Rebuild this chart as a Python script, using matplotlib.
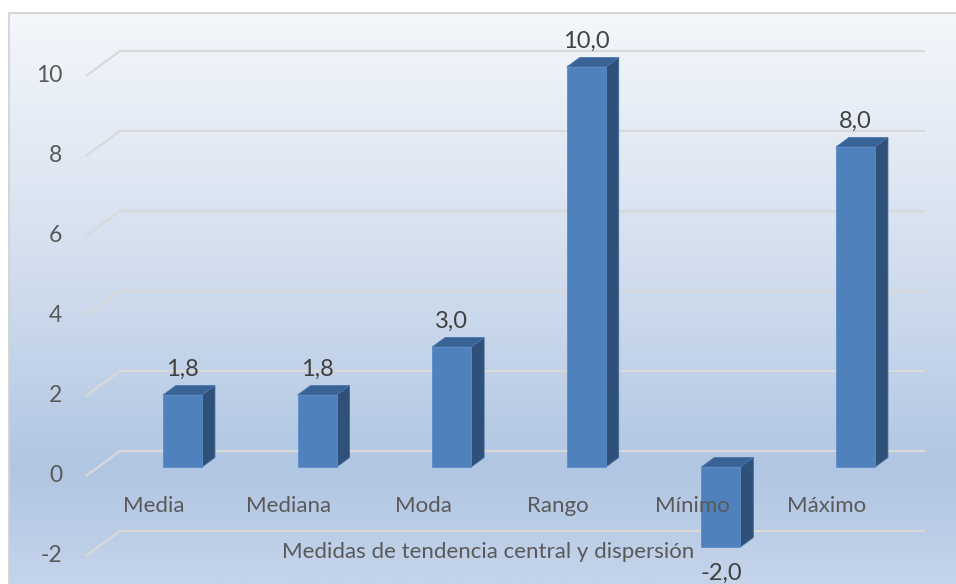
import numpy as np
from matplotlib import pyplot as plt
from matplotlib.patches import Polygon, Rectangle
from matplotlib.colors import LinearSegmentedColormap

plt.rcParams['font.family'] = ['Lato', 'DejaVu Sans']

categorias = ['Media', 'Mediana', 'Moda', 'Rango', 'Mínimo', 'Máximo']
valores = [1.8, 1.8, 3.0, 10.0, -2.0, 8.0]
ticks_y = [-2, 0, 2, 4, 6, 8, 10]
titulo_x = 'Medidas de tendencia central y dispersión'

W, H = 956, 584
# pixel layout of the pseudo 3D box
X0, PXCAT = 170.3, 134.6     # category 0 at depth 0, px per category
Y0, PXVAL = 476.0, 40.0      # value 0 at depth 0, px per unit
DXPX, DYPX = 34.0, 25.0      # full depth shift in px
DX = DXPX / PXCAT
DY = DYPX / PXVAL

def px2x(px):
    return (px - X0) / PXCAT

def px2y(py):
    return (Y0 - py) / PXVAL

def p(x, v, d):
    return (x + d * DX, v + d * DY)

fig = plt.figure(figsize=(W / 100, H / 100), dpi=100)
ax = fig.add_axes([0, 0, 1, 1])
ax.set_xlim(px2x(0), px2x(W))
ax.set_ylim(px2y(H), px2y(0))
ax.axis('off')

# background with gradient and frame
stops = [(0.0, (244/255, 247/255, 251/255)),
         (0.45, (210/255, 222/255, 238/255)),
         (0.8, (177/255, 198/255, 227/255)),
         (1.0, (196/255, 212/255, 234/255))]
cmap = LinearSegmentedColormap.from_list('fondo', stops)
grad = np.linspace(0, 1, 256).reshape(-1, 1)
ax.imshow(grad, cmap=cmap, aspect='auto', origin='upper',
          extent=[px2x(9), px2x(W + 5), px2y(13 + 571), px2y(13)], zorder=0)
ax.add_patch(Rectangle((px2x(9), px2y(H + 5)), px2x(W + 5) - px2x(9), px2y(13) - px2y(H + 5),
                       fill=False, edgecolor='#d0d0d0', lw=1.2, zorder=1))

# gridlines: left wall diagonal + back wall horizontal
xl = px2x(86)
xr = px2x(925 - DXPX)
for v in ticks_y:
    a = p(xl, v, 0)
    b = p(xl, v, 1)
    c = p(xr, v, 1)
    ax.plot([a[0], b[0], c[0]], [a[1], b[1], c[1]], color='#d9d9d9', lw=1.6,
            solid_capstyle='butt', zorder=2)
    ax.text(px2x(62), v, str(v), ha='right', va='center', fontsize=16.5, color='#595959', zorder=5)

# bars
w = 39.0 / PXCAT
d0, d1 = 0.36, 0.74
c_front = '#4f81bd'
c_side = '#2f5079'
c_top = '#3a6395'
for i, v in enumerate(valores):
    xa = i + (182.5 - X0) / PXCAT - w / 2 - d0 * DX
    xb = xa + w
    lo, hi = min(0, v), max(0, v)
    front = [p(xa, lo, d0), p(xb, lo, d0), p(xb, hi, d0), p(xa, hi, d0)]
    side = [p(xb, lo, d0), p(xb, lo, d1), p(xb, hi, d1), p(xb, hi, d0)]
    top = [p(xa, hi, d0), p(xb, hi, d0), p(xb, hi, d1), p(xa, hi, d1)]
    ax.add_patch(Polygon(side, closed=True, facecolor=c_side, edgecolor='#3f6a9e', lw=0.6, zorder=3))
    ax.add_patch(Polygon(top, closed=True, facecolor=c_top, edgecolor='#4a77ae', lw=0.6, zorder=3))
    ax.add_patch(Polygon(front, closed=True, facecolor=c_front, edgecolor='#5b8cc8', lw=0.6, zorder=4))

    cx, cy = p(xa + w / 2, v, d0)
    off = 0.65 if v >= 0 else -0.65
    ax.text(cx, cy + off, f'{v:.1f}'.replace('.', ','), ha='center', va='center',
            fontsize=17, color='#404040', zorder=6)

    ax.text(i + px2x(154), px2y(506), categorias[i], ha='center', va='center',
            fontsize=16, color='#595959', zorder=5)

ax.text(px2x(488), px2y(552), titulo_x, ha='center', va='center',
        fontsize=16, color='#595959', zorder=5)

fig.savefig('out.png', dpi=100, facecolor='white')
